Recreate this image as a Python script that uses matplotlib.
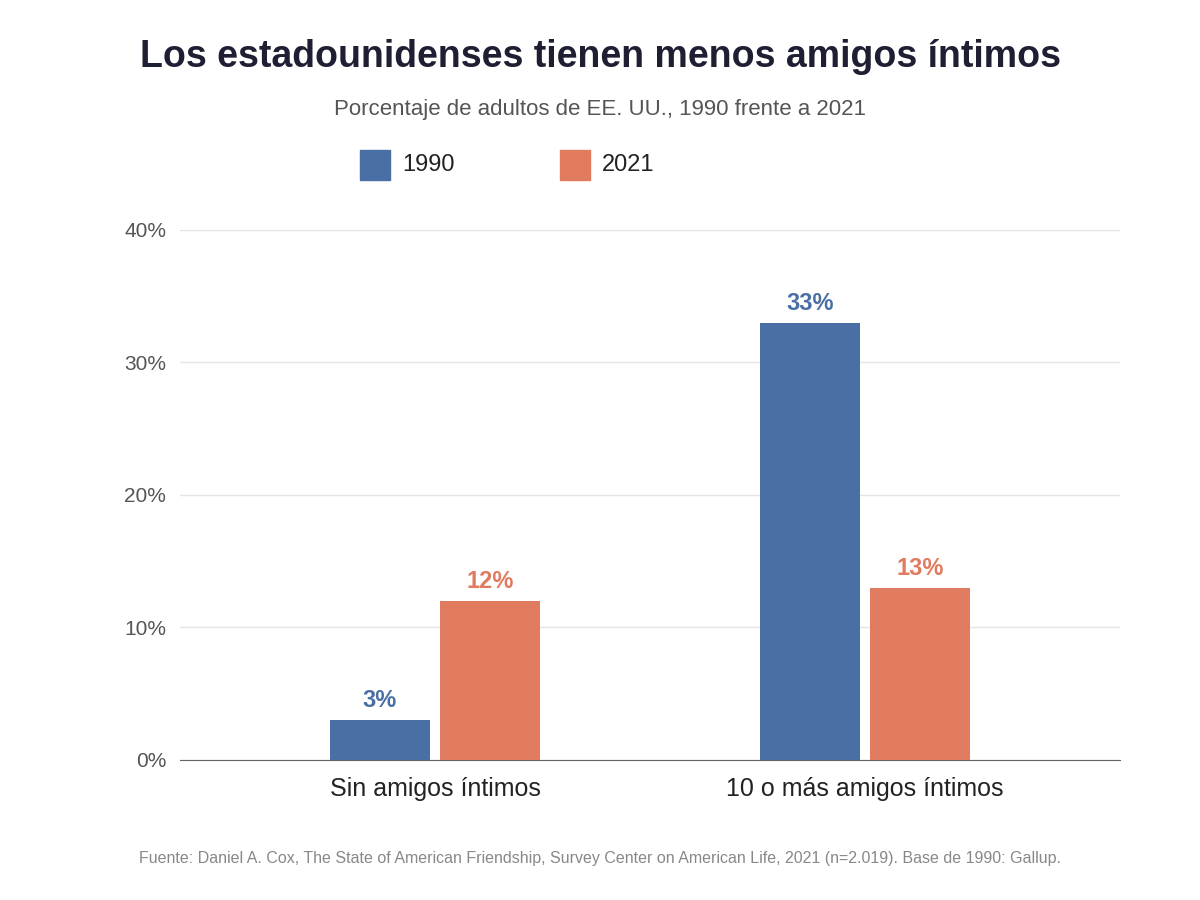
import matplotlib
matplotlib.use("Agg")
import matplotlib.pyplot as plt
from matplotlib.patches import Rectangle

categories = ["Sin amigos íntimos", "10 o más amigos íntimos"]
series = ["1990", "2021"]
v1990 = [3, 33]
v2021 = [12, 13]
yticks = [0, 10, 20, 30, 40]
colors = ["#4a6fa5", "#e07b5f"]

plt.rcParams['font.family'] = ['Liberation Sans', 'DejaVu Sans']
fig = plt.figure(figsize=(12, 9), dpi=100)
ax = fig.add_axes([0.15, 0.1556, 0.7833, 0.5889])
x = range(len(categories))
w = 0.2326
off = 0.128
for vals, c, d in [(v1990, colors[0], -off), (v2021, colors[1], off)]:
    xs = [i + d for i in x]
    ax.bar(xs, vals, width=w, color=c, zorder=3)
    for xi, v in zip(xs, vals):
        ax.text(xi, v + 0.6, f"{v}%", ha="center", va="bottom", fontsize=17,
                fontweight="bold", color=c)
ax.set_xlim(-0.593, 1.593)
ax.set_ylim(0, 40)
ax.set_yticks(yticks)
ax.set_yticklabels([f"{t}%" for t in yticks], fontsize=15, color="#555555")
ax.set_xticks(list(x))
ax.set_xticklabels(categories, fontsize=18, color="#222222")
ax.tick_params(axis="both", length=0, pad=10)
ax.tick_params(axis="x", pad=12)
ax.grid(axis="y", color="#e5e5e5", lw=1, zorder=0)
for s in ["top", "right", "left"]:
    ax.spines[s].set_visible(False)
ax.spines["bottom"].set_color("#666666")

fig.text(0.5, 1 - 57/900, "Los estadounidenses tienen menos amigos íntimos", ha="center",
         va="center", fontsize=27, fontweight="bold", color="#1f1f33")
fig.text(0.5, 1 - 109/900, "Porcentaje de adultos de EE. UU., 1990 frente a 2021", ha="center",
         va="center", fontsize=16, color="#555555")
for lx, lab, c in [(360, series[0], colors[0]), (560, series[1], colors[1])]:
    fig.patches.append(Rectangle((lx/1200, 1 - 180/900), 30/1200, 30/900,
                                 transform=fig.transFigure, color=c))
    fig.text((lx + 42)/1200, 1 - 165/900, lab, va="center", ha="left", fontsize=17,
             color="#222222")
fig.text(0.5, 1 - 858/900, "Fuente: Daniel A. Cox, The State of American Friendship, Survey Center on American Life, 2021 (n=2.019). Base de 1990: Gallup.",
         ha="center", va="center", fontsize=11.5, color="#888888")
fig.savefig("out.png", dpi=100)
